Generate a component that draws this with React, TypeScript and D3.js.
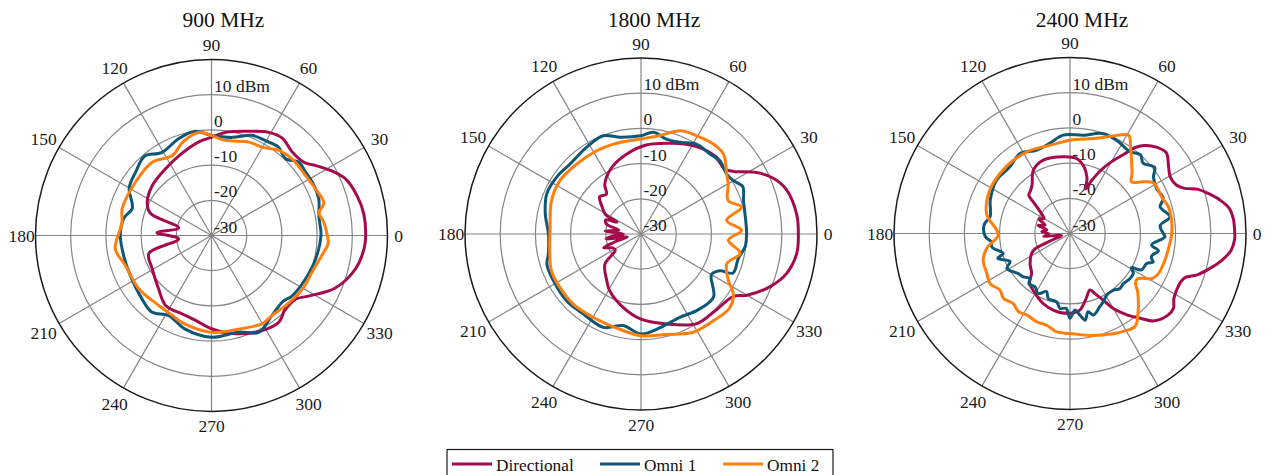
import React, { useEffect } from 'react';
import * as d3 from 'd3';

const W = 1272;
const H = 475;
const R_MIN = -30;
const R_MAX = 20;
const ringTicks = [-30, -20, -10, 0, 10];
const ringLabels = ['-30', '-20', '-10', '0', '10 dBm'];
const gridRings = [-20, -10, 0, 10];
const angleTicks = [0, 30, 60, 90, 120, 150, 180, 210, 240, 270, 300, 330];
const titles = ['900 MHz', '1800 MHz', '2400 MHz'];
const seriesNames = ['Directional', 'Omni 1', 'Omni 2'];
const colors = ['#A50B4C', '#0E5777', '#FF7F0E'];

// [angle in degrees, level in dBm]
const dir900: [number, number][] = [
  [0, 13.8], [8, 13.7], [15, 12.9], [23, 11.3], [28, 8.9], [34, 5.6], [38, 3.6], [46, 3.0], [54, 4.2], [61, 3.5],
  [69, 1.7], [82, -0.4], [90, -2.1], [98, -3.2], [112, -5.5], [125, -7.0], [140, -8.0], [153, -9.5], [160, -11.5],
  [167, -20.4], [177, -14.5], [186, -20.6], [196, -11.5], [209, -10.7], [225, -8.7], [237, -6.2], [250, -6.2],
  [259, -5.5], [270, -3.5], [282, -1.5], [298, 0.6], [308, 1.2], [315, -0.4], [323, 0], [328, 2.5], [337, 8.2],
  [347, 12], [355, 13.5],
];
const omni1_900: [number, number][] = [
  [0, 1.1], [10, 1.0], [19, 2.2], [28, 2.4], [34, 2.2], [40, 2.4], [46, 0.3], [53, 1.5], [60, 1.0], [68, 0.7],
  [78, -1.5], [90, -1.6], [99, 0], [109, -1], [121, -2.5], [130, -0.5], [140, -1.9], [150, -3.0], [161, -6.2],
  [169, -4.6], [180, -4.1], [193, -4.4], [206, -4.3], [222, -3.3], [232, -2.4], [242, -4.2], [254, -2.4],
  [270, -1.1], [286, -1.5], [296, 0.6], [307, -1.5], [317, -2.4], [323, -1.4], [335, -0.6], [347, 0.3],
];
const omni2_900: [number, number][] = [
  [0, 2.9], [7, 2.1], [12, 1.2], [16, 3.2], [24, 2.4], [32, 1.7], [43, 1.6], [52, 0.8], [60, -1.1], [68, -1.4],
  [82, -2.7], [90, -1.6], [97, -0.5], [107, -2.2], [116, -4.7], [129, -3.2], [145, -3.6], [163, -3.5], [172, -4.3],
  [188, -2.4], [199, -4.1], [216, -4.4], [233, -5.1], [244, -4.7], [252, -3.8], [270, -2.5], [286, -2.3],
  [300, -1.1], [307, -1.5], [317, -1.0], [330, 0], [340, 0.4], [350, 1.9], [356, 3.2],
];

const dir1800: [number, number][] = [
  [0, 14.7], [7, 14.6], [17, 13.2], [23, 10.7], [28, 7.2], [34, 1.8], [38, 0], [45, 0.6], [52, 0.1], [59, -0.8],
  [70, -2.6], [86, -4.6], [100, -6.9], [114, -9.4], [126, -12.5], [131, -15], [138, -14.2], [145, -16.5],
  [151, -18.4], [154, -22.4], [158, -19.2], [164, -19.8], [170, -23.6], [175, -19.8], [180, -25], [184, -22],
  [188, -20], [192, -26], [196, -22.9], [200, -18.7], [206, -21], [212, -21.4], [220, -16.6], [234, -13.5],
  [241, -11.6], [256, -8.6], [270, -5.8], [286, -3.4], [302, 0], [313, 0.3], [326, 1.7], [330, 4.8], [338, 9.7],
  [345, 12.9], [353, 14.6],
];
const omni1_1800: [number, number][] = [
  [0, 0], [11, 0.1], [18, 0.6], [25, 1.9], [30, 0.3], [35, -0.3], [43, 0.6], [49, 0], [58, 0], [67, -1.7],
  [75, -2.1], [83, -0.9], [90, -2.1], [102, -1.9], [111, -0.1], [122, -0.9], [135, -1.7], [146, -1.1],
  [157, -0.9], [168, -2.2], [180, -3.7], [192, -3.1], [198, -1.9], [208, -1.8], [222, -1.6], [234, -2],
  [248, -1.4], [259, -3.5], [270, -1.6], [282, -2.9], [295, -3.9], [306, -3.1], [319, -2.7], [330, -6.9],
  [335, -5.3], [337, -1.6], [346, -1.5], [353, -0.2],
];
const omni2_1800: [number, number][] = [
  [2, -1.4], [9, -5.4], [15, -0.4], [21, -3.5], [30, -1.4], [35, -0.3], [44, 2.6], [51, 2.8], [60, 2.1],
  [69, 1.4], [79, -1.5], [90, -3], [107, -3.3], [118, -3.2], [133, -3], [147, -2.4], [160, -2.9], [176, -4.1],
  [192, -3.5], [202, -2.5], [213, -2.4], [226, -2.3], [240, -2.7], [257, -2.3], [270, -1.1], [284, -0.6],
  [298, 1.6], [310, 2.1], [320, 2.8], [327, 1.3], [332, -1.9], [341, -4.2], [349, -1.3], [356, -5.1],
];

const dir2400: [number, number][] = [
  [0, 16.8], [5, 16.6], [9, 15.8], [12.5, 13.7], [16, 11], [19, 8.5], [21.5, 5], [24.5, 3.2], [29.5, 2.7],
  [34, 3.8], [40, 5.7], [45, 4.7], [50, 2.6], [53, 0.5], [56, -3], [60, -6.5], [64, -10], [68, -14],
  [70.5, -16.5], [73, -13.5], [78, -10.7], [85, -8.6], [95, -8.1], [110, -7.8], [120, -9.2], [128, -12.5],
  [133, -13.5], [137, -14], [140, -17], [145, -20], [150, -21.5], [155, -20.3], [161, -22.5], [166, -20.7],
  [171, -23.3], [176, -22], [181, -24], [186, -22.5], [190, -27], [195, -27.5], [200, -25], [204, -19],
  [207.5, -17.7], [217, -15.8], [226, -14.3], [231, -11.8], [240, -10.3], [249, -8.7], [258, -7.7],
  [268, -7.3], [277, -8], [284, -11], [289.5, -13], [292.5, -11.5], [296.6, -8.8], [300, -5.4], [305, -1.8],
  [310, 1.5], [314, 4.5], [320, 6.2], [324, 6.3], [328, 4.8], [332, 4.3], [336, 4.3], [339, 5], [342, 8],
  [346, 11], [350, 13.8], [354, 16], [358, 16.8],
];
const omni1_2400: [number, number][] = [
  [0, -3.5], [5, -4.3], [9.5, -1.2], [16.5, -3.3], [20.6, -1.7], [27.4, -2.3], [34, -1.4], [38, 0.5], [44, -1.2],
  [48, 0], [54, -1.2], [63, -0.4], [72, -0.1], [82, -1.8], [94, -2], [103, -3.8], [112, -4.5], [122, -3.2],
  [132, -4.5], [144, -4.2], [157, -5.4], [168, -6.8], [174, -5.5], [182, -5.9], [186, -7.5], [190, -7.5],
  [196.6, -10.2], [199, -8.3], [205, -11.2], [209, -9.5], [217.7, -11.4], [223, -11.9], [228, -12.9],
  [231, -11.5], [236.7, -11.9], [242, -10.7], [248, -12.2], [251.6, -10.5], [259, -10.2], [262.4, -8.5],
  [267, -8.7], [270, -5.9], [273.7, -8.2], [277, -6.6], [280, -5], [283, -7.2], [286, -5.9], [292, -7.5],
  [296, -8.4], [300.7, -9.6], [307.4, -9.7], [312, -8.9], [316.8, -9.2], [323, -8.7], [327.7, -8.7],
  [331, -10], [333, -7.2], [338.6, -6.6], [341, -5], [343, -5.8], [345, -5.9], [349, -4.4], [352, -6.6],
  [358, -3],
];
const omni2_2400: [number, number][] = [
  [0, -1.1], [7.5, -0.9], [15, -1], [22, -2], [28, -2], [31.3, -2.3], [35.2, -4.5], [40, -7.2], [44, -5.5],
  [48.6, -3.5], [55, 0], [59, 2.5], [62, 1.8], [68, -0.3], [76, -2.2], [90, -3.5], [103, -4.3], [116, -3.8],
  [128, -3.7], [139, -3.8], [152, -4.1], [167, -5.7], [181, -9.6], [190, -6], [197, -4.2], [205.6, -3.8],
  [212, -3.2], [219, -4.4], [224.3, -3.6], [231, -4.4], [236.6, -3.4], [242, -3.8], [249.3, -3.2],
  [255.7, -3.1], [262.3, -1.8], [270, -1.6], [281, -0.5], [293.4, 1], [300.4, 1.9], [304, 2.3], [306.5, 1.8],
  [310, 0], [313, -1.5], [319, -4.5], [323, -6.7], [326, -6.9], [328, -6], [331, -3.5], [335.6, -2.4],
  [344.3, -2], [354.3, -1.5],
];

const panelData = [
  [dir900, omni1_900, omni2_900],
  [dir1800, omni1_1800, omni2_1800],
  [dir2400, omni1_2400, omni2_2400],
];
const centers: [number, number][] = [[211.5, 235.5], [641, 234], [1070, 233.5]];
const titleX = [223.5, 654, 1082];
const RADIUS = 176;
const FONT = '"Liberation Serif", "Times New Roman", serif';
const GRID = '#858585';

function Panel({ idx }: { idx: number }) {
  const [cx, cy] = centers[idx];
  const r = d3.scaleLinear().domain([R_MIN, R_MAX]).range([0, RADIUS]);
  const toXY = (a: number, v: number): [number, number] => {
    const t = (a * Math.PI) / 180;
    const rr = r(Math.max(R_MIN, v));
    return [rr * Math.cos(t), -rr * Math.sin(t)];
  };
  const line = d3.line<[number, number]>().curve(d3.curveCatmullRomClosed.alpha(0.5));
  return (
    <g transform={`translate(${cx},${cy})`}>
      {gridRings.map((v) => (
        <circle key={v} r={r(v)} fill="none" stroke={GRID} strokeWidth={1.2} />
      ))}
      {angleTicks.map((a) => {
        const [x, y] = toXY(a, R_MAX);
        return <line key={a} x1={0} y1={0} x2={x} y2={y} stroke={GRID} strokeWidth={1.2} />;
      })}
      <circle r={r(R_MAX)} fill="none" stroke="#1a1a1a" strokeWidth={1.5} />
      {ringTicks.map((v, i) => (
        <text key={v} x={2.5} y={-r(v) - 3} fontSize={17.5} fontFamily={FONT} fill="#1a1a1a">
          {ringLabels[i]}
        </text>
      ))}
      {angleTicks.map((a) => {
        const t = (a * Math.PI) / 180;
        const horiz = Math.abs(Math.cos(t)) > 0.99;
        const d = horiz ? (a === 0 ? 187 : 190) : Math.abs(Math.sin(t)) > 0.99 ? 190.5 : 194;
        const x = d * Math.cos(t);
        const y = -d * Math.sin(t);
        return (
          <text key={a} x={x} y={y + 6} textAnchor="middle" fontSize={17.5} fontFamily={FONT} fill="#1a1a1a">
            {a}
          </text>
        );
      })}
      {panelData[idx].map((s, si) => (
        <path
          key={si}
          d={line(s.map(([a, v]) => toXY(a, v))) || ''}
          fill="none"
          stroke={colors[si]}
          strokeWidth={3}
          strokeLinejoin="round"
        />
      ))}
    </g>
  );
}

export default function App() {
  useEffect(() => {
    document.body.style.margin = '0';
  }, []);
  const legendX = 447;
  const legendY = 449.5;
  const itemX = [452, 600, 723];
  return (
    <svg width={W} height={H} style={{ display: 'block', background: '#fff' }}>
      {titles.map((t, i) => (
        <text key={t} x={titleX[i]} y={27} textAnchor="middle" fontSize={21.5} fontFamily={FONT} fill="#111">
          {t}
        </text>
      ))}
      {[0, 1, 2].map((i) => (
        <Panel key={i} idx={i} />
      ))}
      <g>
        <rect x={legendX} y={legendY} width={386} height={32} fill="#fff" stroke="#1a1a1a" strokeWidth={1.2} />
        {seriesNames.map((n, i) => (
          <g key={n}>
            <line x1={itemX[i]} x2={itemX[i] + 40} y1={464} y2={464} stroke={colors[i]} strokeWidth={3} />
            <text x={itemX[i] + 44} y={471} fontSize={17.3} fontFamily={FONT} fill="#111">
              {n}
            </text>
          </g>
        ))}
      </g>
    </svg>
  );
}
